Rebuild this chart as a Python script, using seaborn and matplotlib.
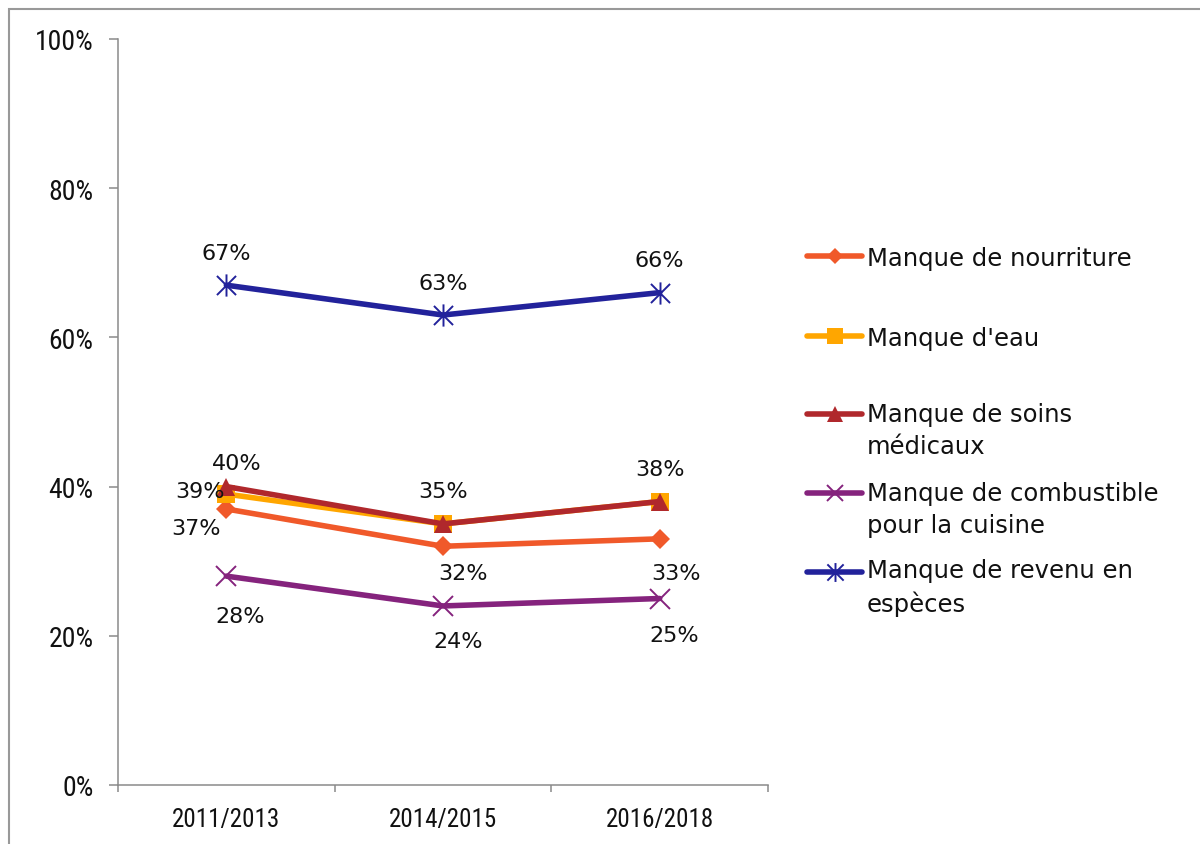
import matplotlib
matplotlib.use("Agg")
import matplotlib.pyplot as plt
import seaborn as sns
from matplotlib import font_manager
from matplotlib.font_manager import FontProperties
from matplotlib.path import Path
from matplotlib.lines import Line2D
from matplotlib.patches import Rectangle
from matplotlib.ticker import PercentFormatter

# ---- data -----------------------------------------------------------------
periods = ["2011/2013", "2014/2015", "2016/2018"]
series_names = [
    "Manque de nourriture",
    "Manque d'eau",
    "Manque de soins\nmédicaux",
    "Manque de combustible\npour la cuisine",
    "Manque de revenu en\nespèces",
]
nourriture = [37, 32, 33]
eau = [39, 35, 38]
soins = [40, 35, 38]
combustible = [28, 24, 25]
revenu = [67, 63, 66]
series_values = [nourriture, eau, soins, combustible, revenu]
# which points carry a value label
label_shown = [
    [True, True, True],
    [True, False, False],
    [True, True, True],
    [True, True, True],
    [True, True, True],
]
y_ticks = [0, 20, 40, 60, 80, 100]

# ---- styling --------------------------------------------------------------
sns.set_theme(style="white")
plt.rcParams["font.family"] = ["DejaVu Sans"]


def narrow_font(size):
    """Return a condensed sans font for the axis ticks if one is installed."""
    def is_regular(f):
        return f.style == "normal" and str(f.weight) in ("400", "normal", "regular", "book")
    entries = [f for f in font_manager.fontManager.ttflist if is_regular(f)]
    for wanted in ("Liberation Sans Narrow", "Roboto Condensed", "Open Sans Condensed",
                   "DejaVu Sans Condensed", "Noto Sans Condensed"):
        for f in entries:
            if f.name == wanted:
                return FontProperties(fname=f.fname, size=size)
    for f in entries:
        if f.stretch in ("condensed", "semi-condensed", "extra-condensed") and "Mono" not in f.name \
                and "Serif" not in f.name:
            return FontProperties(fname=f.fname, size=size)
    return FontProperties(family="DejaVu Sans", size=size * 0.8)


xtick_font = narrow_font(18)
ytick_font = narrow_font(20)

star = Path(
    [(-0.43, -0.43), (0.43, 0.43), (-0.43, 0.43), (0.43, -0.43), (0, -0.5), (0, 0.5)],
    [Path.MOVETO, Path.LINETO, Path.MOVETO, Path.LINETO, Path.MOVETO, Path.LINETO],
)
colors = ["#F0592A", "#FFA600", "#B0282C", "#85237D", "#22229B"]
markers = ["D", "s", "^", "x", star]
marker_sizes = [10, 13, 13, 14, 16]
marker_edges = [0, 0, 0, 1.4, 1.4]
# label offsets in pixels (dx, dy) per point
label_offsets = [
    [(-30, -17), (20, -25), (16, -32)],
    [(-26, 5), (0, 0), (0, 0)],
    [(10, 26), (0, 35), (0, 35)],
    [(14, -38), (15, -33), (15, -34)],
    [(0, 34), (0, 34), (0, 35)],
]
axis_grey = "#8A8A8A"
text_color = "#111111"
line_w = 4.0

W, H = 1200, 845
fig = plt.figure(figsize=(W / 100, H / 100), dpi=100)
ax = fig.add_axes([118 / W, 1 - 786 / H, (768 - 118) / W, (786 - 40) / H])

for vals, c, m, ms, mew in zip(series_values, colors, markers, marker_sizes, marker_edges):
    filled = mew == 0
    sns.lineplot(
        x=periods, y=vals, ax=ax, color=c, lw=line_w,
        marker=m, markersize=ms,
        markerfacecolor=c if filled else "none",
        markeredgecolor=c, markeredgewidth=mew if not filled else 0,
        legend=False,
    )

for vals, shown, offs in zip(series_values, label_shown, label_offsets):
    for i, (v, s, off) in enumerate(zip(vals, shown, offs)):
        if not s:
            continue
        ax.annotate(f"{v:.0f}%", xy=(i, v), xytext=off, textcoords="offset pixels",
                    ha="center", va="center_baseline", fontsize=16, color=text_color)

ax.set_xlim(-0.5, 2.5)
ax.set_ylim(0, 100)
ax.set_yticks(y_ticks)
ax.yaxis.set_major_formatter(PercentFormatter(100, decimals=0))
ax.set_xlabel("")
ax.set_ylabel("")

ax.set_xticks(range(len(periods)))
ax.set_xticklabels(periods)
ax.set_xticks([-0.5, 0.5, 1.5, 2.5], minor=True)
ax.tick_params(axis="x", which="major", length=0, pad=16)
ax.tick_params(axis="x", which="minor", length=5, width=1.1, color=axis_grey, direction="out")
ax.tick_params(axis="y", which="major", length=6.5, width=1.1, color=axis_grey,
               direction="out", pad=11)
ax.tick_params(left=True, bottom=True)
ax.xaxis.set_tick_params(which="minor", bottom=True)
for lab in ax.get_xticklabels():
    lab.set_fontproperties(xtick_font)
    lab.set_color(text_color)
for lab in ax.get_yticklabels():
    lab.set_fontproperties(ytick_font)
    lab.set_color(text_color)

for side in ("top", "right"):
    ax.spines[side].set_visible(False)
for side in ("left", "bottom"):
    ax.spines[side].set_color(axis_grey)
    ax.spines[side].set_linewidth(1.1)

# ---- legend ---------------------------------------------------------------
legend_rows = [257, 337, 415, 494, 573]
line_step = 30  # pixels between wrapped legend lines
for name, c, m, ms, mew, row in zip(series_names, colors, markers, marker_sizes,
                                     marker_edges, legend_rows):
    yf = 1 - row / H
    fig.add_artist(Line2D([807 / W, 862 / W], [yf, yf], transform=fig.transFigure,
                          color=c, lw=line_w, solid_capstyle="round"))
    filled = mew == 0
    fig.add_artist(Line2D([835 / W], [yf], transform=fig.transFigure, lw=0,
                          marker=m, markersize=ms * 0.85,
                          markerfacecolor=c if filled else "none",
                          markeredgecolor=c, markeredgewidth=mew if not filled else 0))
    # baseline of the last wrapped line
    last_baseline = row + 9 + line_step * name.count("\n")
    fig.text(867 / W, 1 - last_baseline / H, name, ha="left", va="baseline", fontsize=17.5,
             linespacing=1.41, color=text_color)

# chart frame
fig.add_artist(Rectangle((9 / W, -0.1), 1.2, 1 - 10 / H + 0.1, transform=fig.transFigure,
                         fill=False, edgecolor="#999999", linewidth=1.5))

fig.savefig("out.png", dpi=100, facecolor="white")
